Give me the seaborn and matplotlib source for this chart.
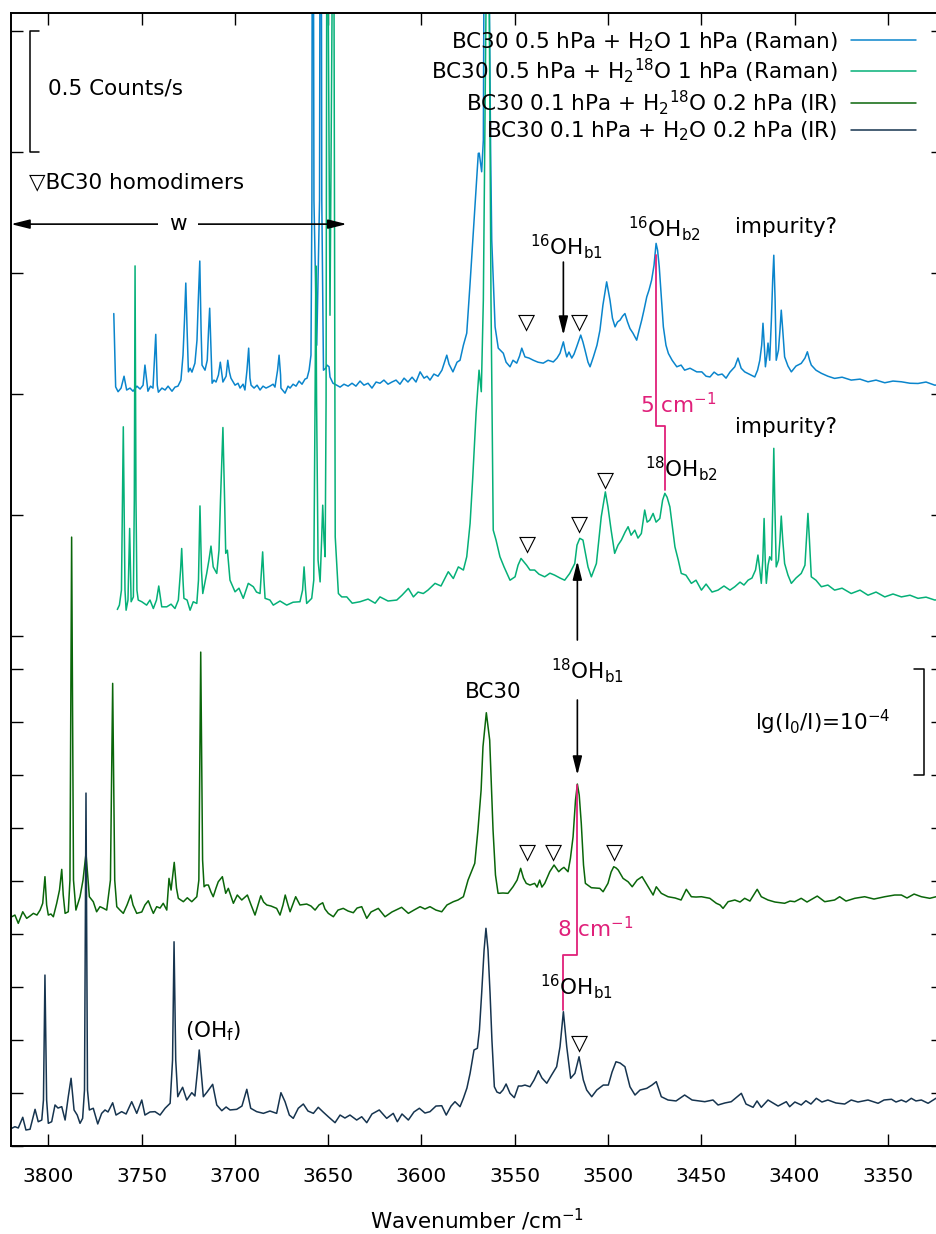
#!/usr/bin/env python3
"""BC30 + water: Raman and IR OH-stretch spectra, stacked with offsets."""

import matplotlib

matplotlib.use("Agg")
import matplotlib.pyplot as plt
import numpy as np
import pandas as pd
import seaborn as sns

# IR, BC30 0.1 hPa + H2O 0.2 hPa; absorbance in units of 1e-4 lg(I0/I)
IR_H2O_WN = [
    3819.6, 3817.9, 3816.1, 3813.7, 3812.0, 3809.8, 3807.1, 3805.4, 3803.5, 3802.6,
    3801.8, 3800.9, 3800.0, 3798.2, 3796.4, 3794.8, 3792.8, 3791.0, 3789.3, 3787.8,
    3786.2, 3784.5, 3783.0, 3781.6, 3780.6, 3779.8, 3779.0, 3778.0, 3775.9, 3773.5,
    3771.4, 3769.6, 3768.0, 3765.5, 3763.7, 3760.7, 3758.3, 3755.3, 3752.6, 3749.9,
    3748.2, 3745.5, 3742.8, 3740.1, 3737.4, 3734.7, 3733.4, 3732.6, 3731.7, 3730.6,
    3729.4, 3728.0, 3725.8, 3723.1, 3721.4, 3720.0, 3719.1, 3717.9, 3716.9, 3714.9,
    3711.9, 3709.7, 3707.0, 3704.7, 3702.6, 3699.0, 3696.2, 3693.6, 3691.5, 3688.3,
    3684.7, 3681.2, 3677.6, 3675.3, 3673.1, 3670.8, 3668.7, 3666.0, 3663.3, 3660.8,
    3657.9, 3655.3, 3652.7, 3649.9, 3646.3, 3643.6, 3641.0, 3638.3, 3634.7, 3632.0,
    3629.3, 3626.5, 3622.6, 3618.6, 3615.1, 3612.9, 3610.4, 3607.0, 3604.0, 3601.1,
    3598.1, 3595.4, 3592.2, 3589.1, 3586.7, 3584.1, 3582.0, 3579.3, 3577.5, 3575.6,
    3573.9, 3571.8, 3570.0, 3568.9, 3567.7, 3566.4, 3565.4, 3564.3, 3563.2, 3562.2,
    3560.9, 3559.5, 3557.9, 3556.3, 3554.6, 3552.5, 3550.2, 3548.0, 3546.3, 3544.5,
    3541.8, 3539.6, 3537.3, 3535.4, 3532.8, 3530.2, 3527.5, 3525.7, 3523.9, 3522.1,
    3520.0, 3517.7, 3515.5, 3513.2, 3511.4, 3508.7, 3506.0, 3502.5, 3499.8, 3497.8,
    3495.7, 3493.5, 3490.9, 3488.2, 3485.5, 3482.8, 3479.2, 3476.4, 3474.1, 3471.4,
    3467.8, 3463.5, 3458.9, 3454.9, 3448.1, 3443.7, 3441.0, 3437.3, 3433.9, 3428.5,
    3426.0, 3422.2, 3420.1, 3417.8, 3414.2, 3411.5, 3408.8, 3404.4, 3402.6, 3399.8,
    3396.4, 3393.9, 3391.2, 3388.3, 3385.3, 3382.1, 3377.8, 3373.1, 3369.6, 3366.0,
    3360.6, 3355.2, 3352.0, 3348.0, 3345.6, 3342.7, 3340.2, 3337.4, 3334.9, 3332.0,
    3328.4, 3324.2, 3320.4,
]
IR_H2O_ABS = [
    0.167, 0.182, 0.170, 0.271, 0.151, 0.158, 0.346, 0.229, 0.245, 0.434,
    1.613, 0.434, 0.214, 0.229, 0.387, 0.358, 0.371, 0.245, 0.465, 0.639,
    0.340, 0.292, 0.214, 0.261, 0.528, 3.330, 0.528, 0.340, 0.356, 0.208,
    0.308, 0.340, 0.321, 0.408, 0.292, 0.324, 0.302, 0.418, 0.308, 0.434,
    0.292, 0.321, 0.324, 0.292, 0.356, 0.403, 0.811, 1.927, 0.811, 0.465,
    0.509, 0.554, 0.434, 0.503, 0.472, 0.717, 0.906, 0.670, 0.465, 0.509,
    0.582, 0.387, 0.333, 0.368, 0.340, 0.346, 0.377, 0.535, 0.356, 0.324,
    0.308, 0.330, 0.308, 0.503, 0.418, 0.292, 0.261, 0.356, 0.396, 0.330,
    0.308, 0.365, 0.321, 0.276, 0.220, 0.292, 0.264, 0.292, 0.245, 0.276,
    0.220, 0.302, 0.340, 0.261, 0.308, 0.229, 0.302, 0.245, 0.321, 0.356,
    0.311, 0.324, 0.377, 0.380, 0.292, 0.377, 0.418, 0.371, 0.450, 0.547,
    0.686, 0.906, 0.922, 1.094, 1.441, 1.849, 2.054, 1.849, 1.441, 1.000,
    0.559, 0.509, 0.497, 0.528, 0.585, 0.497, 0.456, 0.566, 0.566, 0.575,
    0.559, 0.623, 0.710, 0.642, 0.592, 0.670, 0.748, 0.937, 1.267, 0.937,
    0.639, 0.686, 0.842, 0.623, 0.528, 0.465, 0.528, 0.575, 0.575, 0.698,
    0.795, 0.783, 0.748, 0.559, 0.481, 0.528, 0.544, 0.575, 0.607, 0.465,
    0.434, 0.425, 0.481, 0.434, 0.418, 0.434, 0.387, 0.406, 0.418, 0.497,
    0.396, 0.365, 0.425, 0.365, 0.434, 0.406, 0.377, 0.418, 0.371, 0.415,
    0.387, 0.427, 0.396, 0.450, 0.415, 0.434, 0.406, 0.396, 0.434, 0.415,
    0.434, 0.403, 0.434, 0.441, 0.415, 0.434, 0.415, 0.450, 0.425, 0.434,
    0.403, 0.450, 0.462,
]

# IR, BC30 0.1 hPa + H2(18)O 0.2 hPa; 1e-4 lg(I0/I)
IR_H218O_WN = [
    3819.6, 3817.9, 3816.1, 3813.7, 3811.6, 3809.8, 3808.0, 3806.1, 3804.4, 3803.0,
    3801.8, 3800.9, 3800.0, 3798.6, 3797.3, 3795.5, 3794.0, 3792.8, 3792.0, 3791.0,
    3789.3, 3788.4, 3787.5, 3786.5, 3785.2, 3783.0, 3781.4, 3779.8, 3778.7, 3778.0,
    3775.9, 3774.1, 3772.3, 3770.7, 3768.7, 3766.7, 3765.5, 3764.4, 3763.3, 3761.6,
    3759.8, 3757.8, 3755.8, 3754.6, 3752.6, 3749.9, 3748.2, 3746.4, 3744.9, 3743.7,
    3741.9, 3740.1, 3738.4, 3736.5, 3735.3, 3734.2, 3732.5, 3731.3, 3730.3, 3727.6,
    3725.5, 3723.1, 3720.4, 3719.3, 3718.3, 3717.3, 3716.5, 3715.5, 3714.2, 3712.8,
    3711.6, 3710.1, 3708.9, 3706.7, 3704.9, 3703.5, 3700.8, 3698.7, 3696.3, 3693.3,
    3691.3, 3689.2, 3687.6, 3686.1, 3684.6, 3682.9, 3680.6, 3677.6, 3675.8, 3674.2,
    3673.0, 3671.5, 3670.4, 3667.4, 3665.1, 3661.5, 3659.2, 3657.0, 3654.9, 3652.9,
    3651.7, 3649.9, 3647.2, 3644.7, 3641.9, 3639.3, 3636.5, 3634.5, 3632.0, 3629.3,
    3627.0, 3623.1, 3619.5, 3615.8, 3610.6, 3607.0, 3604.0, 3600.7, 3598.1, 3595.4,
    3592.2, 3589.1, 3586.3, 3582.9, 3580.4, 3577.5, 3575.0, 3571.4, 3569.7, 3568.0,
    3567.0, 3565.2, 3563.4, 3562.4, 3561.6, 3560.3, 3558.9, 3556.3, 3553.6, 3550.9,
    3548.7, 3546.8, 3545.3, 3543.8, 3541.8, 3539.3, 3538.0, 3536.6, 3535.4, 3533.9,
    3531.2, 3528.9, 3526.4, 3524.9, 3523.6, 3521.4, 3520.1, 3518.7, 3517.4, 3516.4,
    3515.4, 3514.3, 3513.1, 3512.1, 3508.9, 3506.4, 3504.4, 3502.6, 3500.0, 3498.3,
    3496.9, 3495.6, 3494.5, 3491.9, 3489.2, 3487.0, 3484.4, 3481.7, 3480.0, 3478.5,
    3475.8, 3474.1, 3471.4, 3467.8, 3464.0, 3460.8, 3458.0, 3455.3, 3452.8, 3449.9,
    3445.4, 3441.9, 3439.9, 3438.3, 3435.6, 3432.0, 3429.2, 3426.7, 3423.9, 3420.0,
    3417.8, 3414.2, 3410.5, 3405.3, 3402.4, 3399.9, 3396.4, 3393.3, 3390.6, 3387.8,
    3383.8, 3378.5, 3375.8, 3372.4, 3367.7, 3362.4, 3357.4, 3351.6, 3346.3, 3342.7,
    3339.7, 3335.9, 3332.0, 3327.5, 3324.1, 3320.4,
]
IR_H218O_ABS = [
    0.163, 0.179, 0.101, 0.210, 0.148, 0.170, 0.195, 0.179, 0.226, 0.290,
    0.541, 0.274, 0.179, 0.189, 0.163, 0.290, 0.415, 0.610, 0.368, 0.195,
    0.210, 0.509, 3.745, 0.509, 0.226, 0.352, 0.509, 0.761, 0.509, 0.352,
    0.305, 0.210, 0.258, 0.245, 0.226, 0.509, 2.365, 0.509, 0.258, 0.226,
    0.195, 0.274, 0.368, 0.274, 0.195, 0.208, 0.274, 0.314, 0.245, 0.195,
    0.258, 0.245, 0.290, 0.226, 0.525, 0.415, 0.676, 0.434, 0.337, 0.305,
    0.342, 0.305, 0.352, 0.509, 2.660, 0.698, 0.446, 0.462, 0.462, 0.396,
    0.352, 0.434, 0.493, 0.541, 0.384, 0.431, 0.290, 0.368, 0.321, 0.368,
    0.274, 0.179, 0.274, 0.361, 0.302, 0.274, 0.264, 0.242, 0.179, 0.274,
    0.368, 0.274, 0.210, 0.352, 0.274, 0.283, 0.264, 0.226, 0.274, 0.295,
    0.236, 0.195, 0.163, 0.226, 0.242, 0.217, 0.201, 0.245, 0.258, 0.148,
    0.208, 0.242, 0.163, 0.208, 0.252, 0.195, 0.226, 0.258, 0.236, 0.258,
    0.226, 0.210, 0.274, 0.305, 0.321, 0.352, 0.509, 0.667, 0.981, 1.358,
    1.767, 2.088, 1.830, 1.358, 0.981, 0.557, 0.384, 0.387, 0.384, 0.446,
    0.509, 0.620, 0.528, 0.478, 0.462, 0.478, 0.443, 0.509, 0.443, 0.478,
    0.588, 0.651, 0.588, 0.613, 0.629, 0.588, 0.717, 0.918, 1.264, 1.415,
    1.311, 1.044, 0.651, 0.478, 0.437, 0.434, 0.431, 0.399, 0.478, 0.585,
    0.635, 0.623, 0.604, 0.525, 0.493, 0.446, 0.509, 0.541, 0.491, 0.446,
    0.368, 0.446, 0.384, 0.352, 0.340, 0.321, 0.422, 0.352, 0.349, 0.352,
    0.337, 0.290, 0.274, 0.242, 0.305, 0.321, 0.302, 0.337, 0.311, 0.422,
    0.352, 0.321, 0.302, 0.290, 0.311, 0.305, 0.337, 0.302, 0.330, 0.358,
    0.305, 0.321, 0.352, 0.311, 0.337, 0.352, 0.330, 0.352, 0.368, 0.368,
    0.340, 0.377, 0.352, 0.337, 0.352, 0.349,
]

# Raman, BC30 0.5 hPa + H2(18)O 1 hPa; counts/s (3.5 = off scale)
RAMAN_H218O_WN = [
    3763.0, 3761.9, 3760.8, 3759.8, 3758.9, 3758.3, 3757.3, 3756.4, 3755.6, 3754.4,
    3753.9, 3753.5, 3753.0, 3752.5, 3751.8, 3749.9, 3747.3, 3745.5, 3743.7, 3742.0,
    3740.8, 3739.2, 3736.5, 3734.2, 3732.1, 3730.3, 3729.1, 3728.5, 3727.8, 3727.3,
    3725.6, 3724.0, 3722.3, 3720.4, 3719.5, 3718.7, 3717.9, 3717.2, 3715.1, 3713.9,
    3712.8, 3711.6, 3709.7, 3708.5, 3707.7, 3706.4, 3705.5, 3704.9, 3704.0, 3702.6,
    3699.9, 3697.8, 3695.5, 3692.8, 3690.1, 3688.4, 3686.5, 3685.7, 3685.1, 3684.4,
    3683.8, 3681.2, 3679.4, 3675.8, 3672.2, 3668.8, 3665.1, 3663.7, 3662.9, 3662.1,
    3661.5, 3660.2, 3658.8, 3657.7, 3657.0, 3656.6, 3656.2, 3655.4, 3654.3, 3653.5,
    3652.9, 3652.2, 3651.6, 3651.1, 3650.6, 3649.0, 3647.1, 3646.2, 3644.5, 3642.7,
    3640.0, 3637.1, 3632.9, 3628.6, 3624.8, 3622.2, 3617.9, 3613.2, 3610.4, 3607.0,
    3604.3, 3601.8, 3599.0, 3596.5, 3592.7, 3589.5, 3585.6, 3582.9, 3580.2, 3577.5,
    3575.7, 3573.9, 3572.5, 3570.7, 3569.1, 3567.9, 3566.8, 3564.3, 3562.7, 3561.5,
    3560.0, 3557.9, 3555.7, 3552.5, 3549.8, 3548.2, 3546.6, 3543.6, 3541.8, 3539.3,
    3537.0, 3533.9, 3531.1, 3528.6, 3525.7, 3523.2, 3520.5, 3517.8, 3516.6, 3515.1,
    3513.4, 3510.7, 3508.9, 3506.2, 3503.6, 3501.4, 3500.0, 3498.3, 3496.4, 3494.6,
    3492.8, 3490.8, 3489.2, 3487.6, 3485.6, 3483.9, 3482.1, 3480.3, 3479.0, 3477.6,
    3475.8, 3474.2, 3472.2, 3470.7, 3469.5, 3468.3, 3466.8, 3465.6, 3464.1, 3462.3,
    3460.7, 3458.2, 3455.3, 3452.8, 3449.9, 3447.4, 3444.2, 3441.0, 3437.8, 3434.6,
    3432.0, 3429.2, 3427.1, 3424.9, 3422.8, 3420.9, 3419.6, 3418.6, 3417.8, 3417.0,
    3416.3, 3415.7, 3415.1, 3414.2, 3413.3, 3412.3, 3411.6, 3411.1, 3410.6, 3409.8,
    3408.6, 3407.8, 3407.1, 3406.3, 3405.3, 3403.5, 3401.7, 3399.2, 3396.4, 3394.4,
    3393.6, 3392.8, 3392.0, 3391.0, 3388.5, 3385.6, 3382.1, 3378.5, 3374.5, 3369.6,
    3364.9, 3360.6, 3356.3, 3351.6, 3347.2, 3342.7, 3338.1, 3333.8, 3329.5, 3324.8,
    3320.4,
]
RAMAN_H218O_CPS = [
    0.110, 0.128, 0.190, 0.865, 0.190, 0.107, 0.149, 0.445, 0.142, 0.162,
    0.562, 1.530, 0.562, 0.190, 0.149, 0.142, 0.128, 0.149, 0.114, 0.149,
    0.207, 0.121, 0.121, 0.132, 0.114, 0.149, 0.273, 0.362, 0.231, 0.156,
    0.149, 0.107, 0.142, 0.135, 0.231, 0.538, 0.273, 0.176, 0.259, 0.314,
    0.372, 0.286, 0.259, 0.355, 0.562, 0.862, 0.562, 0.342, 0.355, 0.231,
    0.183, 0.198, 0.156, 0.218, 0.204, 0.182, 0.176, 0.273, 0.348, 0.231,
    0.156, 0.149, 0.128, 0.145, 0.128, 0.140, 0.142, 0.190, 0.286, 0.190,
    0.135, 0.145, 0.156, 0.231, 0.975, 1.530, 0.975, 0.314, 0.224, 0.397,
    0.541, 0.397, 0.328, 0.975, 3.500, 1.326, 3.500, 0.410, 0.176, 0.162,
    0.162, 0.136, 0.142, 0.153, 0.136, 0.162, 0.145, 0.149, 0.169, 0.197,
    0.162, 0.182, 0.176, 0.190, 0.218, 0.207, 0.266, 0.238, 0.286, 0.273,
    0.328, 0.466, 0.652, 0.920, 1.099, 1.010, 1.388, 3.500, 1.388, 0.438,
    0.397, 0.328, 0.286, 0.231, 0.245, 0.293, 0.321, 0.293, 0.273, 0.273,
    0.256, 0.245, 0.260, 0.252, 0.240, 0.231, 0.259, 0.300, 0.376, 0.404,
    0.397, 0.286, 0.245, 0.300, 0.493, 0.596, 0.534, 0.438, 0.342, 0.376,
    0.397, 0.430, 0.452, 0.417, 0.438, 0.405, 0.424, 0.521, 0.471, 0.479,
    0.507, 0.471, 0.486, 0.562, 0.590, 0.574, 0.534, 0.459, 0.369, 0.314,
    0.259, 0.252, 0.218, 0.231, 0.190, 0.215, 0.182, 0.190, 0.207, 0.190,
    0.204, 0.223, 0.211, 0.231, 0.240, 0.273, 0.335, 0.273, 0.218, 0.314,
    0.486, 0.314, 0.218, 0.293, 0.328, 0.314, 0.562, 0.776, 0.562, 0.286,
    0.314, 0.397, 0.496, 0.397, 0.300, 0.252, 0.218, 0.240, 0.259, 0.293,
    0.397, 0.507, 0.397, 0.245, 0.231, 0.204, 0.211, 0.190, 0.198, 0.176,
    0.190, 0.169, 0.182, 0.162, 0.174, 0.162, 0.169, 0.156, 0.161, 0.149,
    0.153,
]

# Raman, BC30 0.5 hPa + H2O 1 hPa; counts/s (3.5 = off scale)
RAMAN_H2O_WN = [
    3764.9, 3763.9, 3762.6, 3761.0, 3759.4, 3758.0, 3756.2, 3754.6, 3752.5, 3750.8,
    3749.2, 3748.2, 3747.3, 3746.6, 3745.2, 3743.9, 3742.4, 3741.6, 3741.0, 3739.1,
    3737.4, 3735.8, 3733.7, 3732.1, 3730.5, 3728.9, 3727.8, 3727.0, 3726.3, 3725.6,
    3724.9, 3724.0, 3723.0, 3721.4, 3720.3, 3719.6, 3718.8, 3718.1, 3717.6, 3716.0,
    3714.8, 3714.1, 3713.5, 3712.8, 3712.2, 3711.2, 3710.1, 3708.8, 3707.8, 3706.9,
    3706.4, 3704.7, 3703.8, 3702.9, 3702.1, 3699.9, 3698.3, 3697.2, 3695.6, 3694.6,
    3693.5, 3692.6, 3691.9, 3691.3, 3689.7, 3688.1, 3686.5, 3684.9, 3683.3, 3681.2,
    3679.5, 3678.5, 3677.1, 3676.3, 3675.5, 3675.3, 3673.1, 3671.5, 3670.4, 3668.8,
    3667.2, 3665.6, 3664.0, 3662.4, 3661.3, 3660.2, 3659.2, 3658.7, 3658.3, 3657.6,
    3656.1, 3654.6, 3654.0, 3653.4, 3652.5, 3651.3, 3650.6, 3649.5, 3649.0, 3647.4,
    3645.4, 3643.6, 3641.5, 3639.3, 3637.2, 3635.1, 3632.9, 3630.8, 3628.6, 3626.5,
    3624.3, 3622.2, 3620.1, 3617.9, 3615.8, 3613.6, 3611.5, 3609.3, 3607.2, 3605.0,
    3602.9, 3600.7, 3598.6, 3597.0, 3595.4, 3593.3, 3591.1, 3589.0, 3586.4, 3585.2,
    3583.1, 3580.9, 3579.3, 3577.5, 3575.7, 3573.9, 3571.3, 3569.5, 3569.0, 3567.7,
    3566.8, 3565.6, 3562.9, 3562.3, 3560.5, 3558.8, 3556.1, 3554.6, 3552.5, 3550.9,
    3548.9, 3547.4, 3546.2, 3544.5, 3542.3, 3540.0, 3537.5, 3534.7, 3532.1, 3529.3,
    3527.3, 3525.7, 3523.9, 3523.0, 3522.1, 3520.9, 3519.4, 3518.2, 3516.8, 3514.6,
    3513.4, 3512.3, 3510.7, 3509.6, 3507.8, 3505.9, 3504.3, 3502.7, 3500.7, 3498.9,
    3497.6, 3496.2, 3494.9, 3493.5, 3492.2, 3490.9, 3489.5, 3488.2, 3486.6, 3484.6,
    3483.3, 3481.9, 3480.7, 3479.2, 3478.0, 3476.6, 3475.3, 3474.2, 3473.4, 3472.5,
    3471.3, 3470.3, 3468.9, 3467.6, 3465.6, 3463.1, 3460.8, 3458.9, 3456.0, 3452.4,
    3449.7, 3447.4, 3445.3, 3443.1, 3441.0, 3438.8, 3436.7, 3434.6, 3432.0, 3430.3,
    3428.6, 3426.7, 3424.4, 3421.3, 3419.8, 3418.6, 3417.6, 3416.9, 3416.2, 3415.6,
    3414.8, 3414.2, 3413.3, 3412.4, 3411.7, 3411.1, 3410.4, 3409.8, 3408.6, 3407.8,
    3407.1, 3406.3, 3405.3, 3403.5, 3401.7, 3399.2, 3396.4, 3394.4, 3393.1, 3391.9,
    3391.0, 3388.5, 3385.6, 3382.1, 3378.5, 3374.5, 3369.6, 3364.9, 3360.6, 3356.3,
    3351.6, 3347.2, 3342.7, 3338.1, 3333.8, 3329.5, 3324.8, 3320.4,
]
RAMAN_H2O_CPS = [
    0.333, 0.030, 0.010, 0.025, 0.074, 0.017, 0.025, 0.012, 0.033, 0.021,
    0.037, 0.120, 0.058, 0.012, 0.033, 0.025, 0.247, 0.037, 0.008, 0.025,
    0.017, 0.033, 0.012, 0.029, 0.033, 0.058, 0.161, 0.306, 0.459, 0.264,
    0.092, 0.107, 0.091, 0.128, 0.223, 0.388, 0.550, 0.264, 0.120, 0.099,
    0.140, 0.264, 0.355, 0.182, 0.045, 0.058, 0.050, 0.079, 0.132, 0.079,
    0.050, 0.074, 0.140, 0.091, 0.066, 0.037, 0.045, 0.025, 0.041, 0.017,
    0.099, 0.190, 0.066, 0.037, 0.025, 0.037, 0.017, 0.033, 0.025, 0.033,
    0.041, 0.029, 0.099, 0.161, 0.079, 0.025, 0.004, 0.033, 0.025, 0.041,
    0.033, 0.054, 0.041, 0.062, 0.066, 0.099, 0.161, 0.800, 3.500, 0.800,
    0.202, 0.800, 3.500, 0.800, 0.099, 0.107, 0.120, 0.113, 0.071, 0.045,
    0.037, 0.029, 0.041, 0.033, 0.045, 0.033, 0.054, 0.037, 0.045, 0.025,
    0.050, 0.045, 0.058, 0.041, 0.050, 0.058, 0.041, 0.066, 0.050, 0.070,
    0.050, 0.092, 0.066, 0.074, 0.058, 0.083, 0.074, 0.099, 0.161, 0.124,
    0.092, 0.132, 0.140, 0.202, 0.252, 0.459, 0.774, 0.995, 0.996, 0.919,
    1.050, 3.500, 1.008, 0.636, 0.278, 0.190, 0.169, 0.132, 0.113, 0.140,
    0.128, 0.157, 0.190, 0.154, 0.149, 0.140, 0.132, 0.128, 0.140, 0.133,
    0.149, 0.169, 0.216, 0.182, 0.154, 0.174, 0.149, 0.165, 0.195, 0.244,
    0.215, 0.182, 0.132, 0.113, 0.154, 0.202, 0.264, 0.368, 0.464, 0.388,
    0.314, 0.278, 0.298, 0.306, 0.322, 0.333, 0.298, 0.271, 0.252, 0.223,
    0.264, 0.306, 0.347, 0.402, 0.430, 0.471, 0.533, 0.623, 0.595, 0.526,
    0.388, 0.278, 0.202, 0.168, 0.140, 0.113, 0.120, 0.099, 0.107, 0.092,
    0.092, 0.074, 0.071, 0.091, 0.079, 0.083, 0.066, 0.091, 0.113, 0.149,
    0.107, 0.092, 0.083, 0.071, 0.099, 0.140, 0.202, 0.293, 0.202, 0.113,
    0.161, 0.211, 0.140, 0.306, 0.471, 0.574, 0.388, 0.140, 0.182, 0.264,
    0.347, 0.264, 0.154, 0.116, 0.092, 0.116, 0.127, 0.149, 0.175, 0.140,
    0.120, 0.099, 0.086, 0.074, 0.065, 0.070, 0.058, 0.062, 0.051, 0.058,
    0.047, 0.054, 0.051, 0.045, 0.044, 0.050, 0.037, 0.041,
]

SERIES = [
    "BC30 0.5 hPa + H$_2$O 1 hPa (Raman)",
    "BC30 0.5 hPa + H$_2$$^{18}$O 1 hPa (Raman)",
    "BC30 0.1 hPa + H$_2$$^{18}$O 0.2 hPa (IR)",
    "BC30 0.1 hPa + H$_2$O 0.2 hPa (IR)",
]
COLORS = ["#0a85cc", "#05b078", "#0a660a", "#16344f"]
MAGENTA = "#e0207a"

# y axis is in 1e-4 lg(I0/I); Raman counts/s are scaled with the two scale bars
# (0.5 Counts/s spans 121 px, 1e-4 spans 106 px)
RAMAN_SCALE = 121 / 106 / 0.5
OFFSETS = [7.094, 7.094 - RAMAN_SCALE, 2.0, 0.0]


def main() -> None:
    sns.set_theme(
        style="ticks",
        rc={
            "axes.edgecolor": "black",
            "axes.linewidth": 1.4,
            "xtick.color": "black",
            "ytick.color": "black",
            "text.color": "black",
            "axes.labelcolor": "black",
        },
    )
    plt.rcParams["font.family"] = ["DejaVu Sans"]
    plt.rcParams["mathtext.fontset"] = "dejavusans"

    raw = [
        (RAMAN_H2O_WN, RAMAN_H2O_CPS, RAMAN_SCALE),
        (RAMAN_H218O_WN, RAMAN_H218O_CPS, RAMAN_SCALE),
        (IR_H218O_WN, IR_H218O_ABS, 1.0),
        (IR_H2O_WN, IR_H2O_ABS, 1.0),
    ]
    frames = []
    for name, (wn, val, scale), off in zip(SERIES, raw, OFFSETS):
        frames.append(pd.DataFrame({
            "series": name,
            "wavenumber": wn,
            "signal": np.asarray(val) * scale + off,
        }))
    spectra = pd.concat(frames, ignore_index=True)

    fig = plt.figure(figsize=(9.36, 12.34), dpi=100)
    ax = fig.add_axes([11 / 936, 88 / 1234, 932 / 936, 1133 / 1234])

    handles = []
    for name, color in zip(SERIES, COLORS):
        part = spectra[spectra["series"] == name]
        sns.lineplot(data=part, x="wavenumber", y="signal", ax=ax, color=color,
                     linewidth=1.1, estimator=None, sort=False, legend=False)
        handles.append(ax.lines[-1])

    ax.set_xlim(3820, 3320.4)
    ax.set_ylim(0, 10.69)
    ax.set_xticks(np.arange(3800, 3349, -50))
    ir_ticks = np.arange(0, 4.51, 0.5)
    raman_ticks = OFFSETS[0] + np.arange(-2, 4) * 0.5 * RAMAN_SCALE
    ax.set_yticks(np.sort(np.concatenate([ir_ticks, raman_ticks])))
    ax.tick_params(direction="in", length=8.6, width=1.0, top=True, right=True,
                   labelsize=14.5, pad=15)
    ax.tick_params(axis="y", labelleft=False)
    for side in ["top", "right", "left", "bottom"]:
        ax.spines[side].set_visible(True)
    ax.set_xlabel("Wavenumber /cm$^{-1}$", fontsize=15.5, labelpad=15)
    ax.set_ylabel("")

    ax.legend(handles, SERIES, loc="upper right", bbox_to_anchor=(0.971, 0.985),
              frameon=False, markerfirst=False, fontsize=15.5, handlelength=3.0,
              handletextpad=0.65, labelspacing=0.13, borderpad=0, borderaxespad=0)

    fs = 15.5
    # scale bars
    r_top = OFFSETS[0] + 1.5 * RAMAN_SCALE
    r_bot = OFFSETS[0] + 1.0 * RAMAN_SCALE
    ax.plot([3805.0, 3809.8, 3809.8, 3805.0], [r_top, r_top, r_bot, r_bot], color="black", lw=1.1)
    ax.text(3800.0, 9.98, "0.5 Counts/s", ha="left", va="center", fontsize=fs)
    ax.plot([3336.1, 3330.7, 3330.7, 3336.1], [4.5, 4.5, 3.5, 3.5], color="black", lw=1.1)
    ax.text(3348.3, 3.925, "lg(I$_0$/I)=10$^{-4}$", ha="right", va="baseline", fontsize=fs)

    ax.text(3810.3, 9.094, "\u25bdBC30 homodimers", ha="left", va="center", fontsize=fs)
    head = "-|>,head_length=0.8,head_width=0.2"
    ax.annotate("", xy=(3820, 8.698), xytext=(3640, 8.698),
                arrowprops=dict(arrowstyle="<|-|>,head_length=0.8,head_width=0.2",
                                mutation_scale=14, color="black", lw=1.2, shrinkA=0, shrinkB=0))
    ax.text(3730.5, 8.698, "w", ha="center", va="center", fontsize=fs,
            bbox=dict(facecolor="white", edgecolor="none", pad=8))

    labels = [
        (3522.2, 8.406, "$^{16}$OH$_{\\rm b1}$"),
        (3469.7, 8.58, "$^{16}$OH$_{\\rm b2}$"),
        (3404.3, 8.61, "impurity?"),
        (3460.8, 6.314, "$^{18}$OH$_{\\rm b2}$"),
        (3404.3, 6.723, "impurity?"),
        (3510.8, 4.412, "$^{18}$OH$_{\\rm b1}$"),
        (3561.5, 4.224, "BC30"),
        (3516.8, 1.425, "$^{16}$OH$_{\\rm b1}$"),
        (3711.6, 1.025, "(OH$_{\\rm f}$)"),
    ]
    for x, y, s in labels:
        ax.text(x, y, s, ha="center", va="baseline", fontsize=fs)

    arrows = [
        (3523.9, 8.34, 7.651),
        (3516.4, 4.774, 5.519),
        (3516.4, 4.208, 3.500),
    ]
    for x, y0, y1 in arrows:
        ax.annotate("", xy=(x, y1), xytext=(x, y0),
                    arrowprops=dict(arrowstyle=head, mutation_scale=14, color="black",
                                    lw=1.2, shrinkA=0, shrinkB=0))

    homodimers = [
        (3543.6, 7.717), (3515.4, 7.717), (3501.4, 6.220), (3515.4, 5.811),
        (3543.3, 5.616), (3543.3, 2.717), (3529.3, 2.717), (3496.4, 2.717),
        (3515.4, 0.915),
    ]
    for x, y in homodimers:
        ax.text(x, y, "\u25bd", ha="center", va="baseline", fontsize=16)

    # isotope shifts
    ax.plot([3474.2, 3474.2, 3469.5, 3469.5], [8.406, 6.792, 6.792, 6.189], color=MAGENTA, lw=1.3)
    ax.text(3483.0, 6.912, "5 cm$^{-1}$", ha="left", va="baseline", fontsize=fs, color=MAGENTA)
    ax.plot([3516.4, 3516.4, 3523.9, 3523.9], [3.406, 1.802, 1.802, 1.283], color=MAGENTA, lw=1.3)
    ax.text(3527.3, 1.972, "8 cm$^{-1}$", ha="left", va="baseline", fontsize=fs, color=MAGENTA)

    fig.savefig("out.png", dpi=100)
    plt.close(fig)


if __name__ == "__main__":
    main()
